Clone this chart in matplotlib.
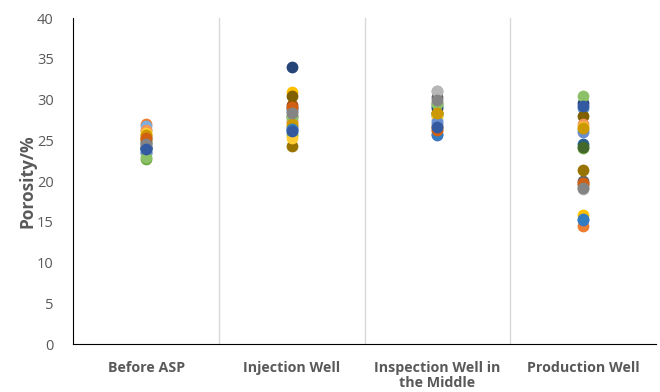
import matplotlib
matplotlib.use("Agg")
import matplotlib.pyplot as plt

plt.rcParams["font.family"] = ["Open Sans", "DejaVu Sans"]

categories = ["Before ASP", "Injection Well", "Inspection Well in\nthe Middle", "Production Well"]

# 每个系列在四个位置各一个点（Excel 式散点，按系列着色）
series_colors = [
    "#5B9BD5", "#ED7D31", "#A5A5A5", "#FFC000", "#4472C4", "#70AD47",
    "#255E91", "#9E480E", "#636363", "#997300", "#806000", "#264478",
    "#43682B", "#7CAFDD", "#F1975A", "#B7B7B7", "#FFCD33", "#698ED0",
    "#8CC168", "#CC9A00", "#327DC2", "#D26012", "#848484", "#335AA1",
]
series_values = [
    [23.8, 26.0, 27.0, 29.0],
    [27.0, 26.8, 26.3, 14.5],
    [26.2, 27.5, 31.0, 19.3],
    [25.7, 30.9, 28.5, 15.8],
    [23.5, 26.5, 25.6, 15.2],
    [22.7, 25.6, 28.0, 24.0],
    [24.0, 29.0, 29.2, 24.5],
    [25.3, 29.3, 26.6, 19.6],
    [24.5, 28.6, 30.3, 20.0],
    [25.0, 24.3, 28.2, 21.4],
    [24.1, 30.4, 28.3, 28.0],
    [24.2, 34.0, 28.9, 29.6],
    [24.8, 28.0, 29.6, 24.2],
    [26.7, 28.8, 27.5, 26.2],
    [26.2, 27.2, 26.8, 27.0],
    [25.5, 27.8, 31.0, 19.0],
    [25.9, 25.3, 28.0, 26.6],
    [23.6, 26.2, 27.2, 26.0],
    [23.0, 27.9, 29.5, 30.4],
    [25.6, 27.0, 28.4, 26.5],
    [24.0, 26.4, 25.8, 15.4],
    [25.3, 29.1, 26.2, 19.8],
    [24.6, 28.4, 30.0, 19.2],
    [23.9, 26.1, 26.6, 29.2],
]

fig = plt.figure(figsize=(6.6, 3.92), dpi=100)
ax = fig.add_axes([0.111, 0.1224, 0.883, 0.8316])

xs = list(range(len(categories)))
for color, vals in zip(series_colors, series_values):
    ax.scatter(xs, vals, s=72, color=color, zorder=3, linewidths=0)

ax.set_xlim(-0.5, len(categories) - 0.5)
ax.set_ylim(0, 40)
ax.set_yticks(range(0, 41, 5))
ax.set_xticks(xs)
ax.set_xticklabels(categories, fontsize=10.3, fontweight="bold", color="#595959",
                   va="top", linespacing=1.15)
ax.tick_params(axis="x", length=0, pad=12)
ax.tick_params(axis="y", length=0, labelsize=10.5, labelcolor="#595959", pad=14)

for b in [0.5, 1.5, 2.5]:
    ax.axvline(b, color="#D9D9D9", linewidth=1, zorder=1)

for s in ["top", "right"]:
    ax.spines[s].set_visible(False)
ax.spines["left"].set_color("black")
ax.spines["bottom"].set_color("black")

ax.set_ylabel("Porosity/%", fontsize=12.5, fontweight="bold", color="#595959", labelpad=0)

fig.savefig("out.png", dpi=100)
